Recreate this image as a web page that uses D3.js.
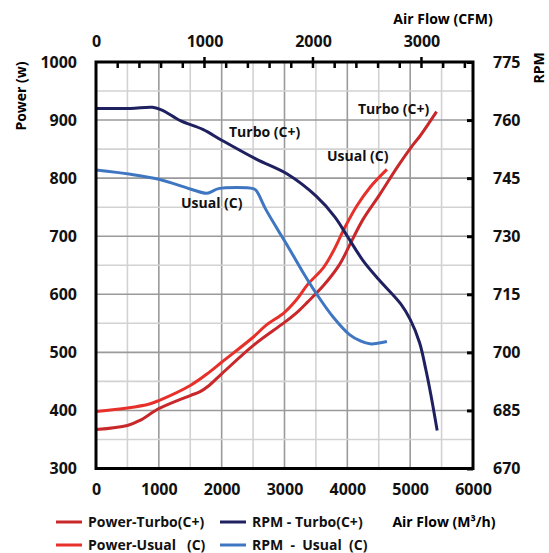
<!DOCTYPE html>
<html><head><meta charset="utf-8">
<script src="https://cdn.jsdelivr.net/npm/d3@7"></script>
<style>
html,body{margin:0;padding:0;background:#fff;}
svg{display:block;font-family:"Open Sans",sans-serif;font-weight:bold;}
</style></head>
<body><svg id="c" width="549" height="553"></svg>
<script>
// ---- data ----
const powerTurbo = [[0,367],[500,374],[700,383],[1000,403],[1500,425.6],[1650,432],[1800,443],[2000,463],[2500,511.6],[3000,551.6],[3200,569],[3370,587],[3620,615],[3880,652],[4070,692],[4250,729],[4520,772.5],[4790,818],[5050,858],[5160,873],[5420,914.5]];
const powerUsual = [[0,398],[500,404],[850,411],[1000,417],[1500,443],[1800,465.6],[2000,483],[2500,526],[2700,546],[3000,569],[3200,592],[3370,617],[3620,646],[3780,675],[3960,715],[4150,752],[4360,784],[4630,815]];
const rpmTurbo = [[0,763],[550,763],[900,763.3],[1050,762.6],[1350,759.8],[1700,757.6],[2000,754.8],[2550,749.9],[3050,746],[3500,740.4],[3800,735],[4000,730],[4250,723.7],[4500,718.8],[4850,712.5],[5000,708.5],[5150,702.5],[5250,695.5],[5330,689],[5430,679.8]];
const rpmUsual = [[0,747.1],[550,746],[1000,744.7],[1500,742.2],[1760,741.1],[1850,741.6],[1950,742.3],[2500,742.3],[2550,741.8],[2700,737],[2900,731.5],[3050,727.5],[3300,720.5],[3510,715.1],[3780,709],[4040,704.5],[4200,703],[4360,702.2],[4630,702.8]];
const flowTicks = [0,1000,2000,3000,4000,5000,6000];
const cfmTicks = [0,1000,2000,3000];
const powerTicks = [300,400,500,600,700,800,900,1000];
const rpmTicks = [670,685,700,715,730,745,760,775];
const legendItems = [
  {label:"Power-Turbo(C+)", color:"#c8282a", col:0, row:0},
  {label:"Power-Usual   (C)", color:"#e8302a", col:0, row:1},
  {label:"RPM - Turbo(C+)", color:"#1f2060", col:1, row:0},
  {label:"RPM  -  Usual  (C)", color:"#3f76c2", col:1, row:1}
];

const L=96, R=473, T=62, B=468.5;
const svg = d3.select("#c");
const x = d3.scaleLinear().domain([0,6000]).range([L,R]);
const xc = d3.scaleLinear().domain([0,3475]).range([L,R]);
const yP = d3.scaleLinear().domain([300,1000]).range([B,T]);
const yR = d3.scaleLinear().domain([670,775]).range([B,T]);

// grid
const g = svg.append("g");
d3.range(500,6000,500).forEach(v=>{
  g.append("line").attr("x1",x(v)).attr("x2",x(v)).attr("y1",T).attr("y2",B)
   .attr("stroke", v%1000===0?"#9a9a9a":"#d2d2d2").attr("stroke-width",1.6);
});
d3.range(350,1000,50).forEach(v=>{
  g.append("line").attr("x1",L).attr("x2",R).attr("y1",yP(v)).attr("y2",yP(v))
   .attr("stroke", v%100===0?"#9a9a9a":"#d2d2d2").attr("stroke-width",1.6);
});

// lines
const cv = d3.curveCatmullRom.alpha(0.5);
const lineP = d3.line().x(d=>x(d[0])).y(d=>yP(d[1])).curve(cv);
const lineR = d3.line().x(d=>x(d[0])).y(d=>yR(d[1])).curve(cv);
svg.append("path").attr("d",lineP(powerTurbo)).attr("fill","none").attr("stroke","#c8282a").attr("stroke-width",3);
svg.append("path").attr("d",lineP(powerUsual)).attr("fill","none").attr("stroke","#e8302a").attr("stroke-width",3);
svg.append("path").attr("d",lineR(rpmTurbo)).attr("fill","none").attr("stroke","#1f2060").attr("stroke-width",3);
svg.append("path").attr("d",lineR(rpmUsual)).attr("fill","none").attr("stroke","#3f76c2").attr("stroke-width",3);

// border
svg.append("rect").attr("x",L).attr("y",T).attr("width",R-L).attr("height",B-T)
  .attr("fill","none").attr("stroke","#000").attr("stroke-width",3);

// axes
const fs = "16px";
const styleText = s=>s.selectAll("text").attr("font-size",fs).attr("font-family","Open Sans").attr("font-weight","bold").attr("fill","#111");
const bottomAx = d3.axisBottom(x).tickValues(flowTicks).tickSize(0).tickPadding(15).tickFormat(d3.format("d"));
svg.append("g").attr("transform",`translate(0,${B})`).call(bottomAx)
  .call(s=>{s.select(".domain").remove(); styleText(s);});

const leftAx = d3.axisLeft(yP).tickValues(powerTicks).tickSize(0).tickPadding(19).tickFormat(d3.format("d"));
svg.append("g").attr("transform",`translate(${L},0)`).call(leftAx)
  .call(s=>{s.select(".domain").remove(); styleText(s);});

const rightAx = d3.axisRight(yR).tickValues(rpmTicks).tickSizeInner(-6).tickSizeOuter(0).tickPadding(20).tickFormat(d3.format("d"));
svg.append("g").attr("transform",`translate(${R},0)`).call(rightAx)
  .call(s=>{s.select(".domain").remove(); s.selectAll("line").attr("stroke","#000").attr("stroke-width",3); styleText(s);});

// top CFM axis
const topAx = d3.axisTop(xc).tickValues(cfmTicks).tickSize(0).tickPadding(15).tickFormat(d3.format("d"));
svg.append("g").attr("transform",`translate(0,${T})`).call(topAx)
  .call(s=>{s.select(".domain").remove(); styleText(s);});
d3.range(200,3475,200).forEach(v=>{
  const major = v%1000===0;
  svg.append("line").attr("x1",xc(v)).attr("x2",xc(v))
    .attr("y1", major?T-5:T).attr("y2", T+6).attr("stroke","#000").attr("stroke-width",2.5);
});

// axis titles
svg.append("text").attr("x",443).attr("y",24).attr("text-anchor","middle").attr("font-size","14px").text("Air Flow (CFM)");
svg.append("text").attr("transform","translate(26,96) rotate(-90)").attr("text-anchor","middle").attr("font-size","14px").text("Power (w)");
svg.append("text").attr("transform","translate(544,68) rotate(-90)").attr("text-anchor","middle").attr("font-size","14px").text("RPM");
svg.append("text").attr("x",444).attr("y",527).attr("text-anchor","middle").attr("font-size","14px").text("Air Flow (M³/h)");

// annotations
const ann = [["Turbo (C+)",229,137],["Usual (C)",181,208],["Turbo (C+)",358,114],["Usual (C)",327,161]];
ann.forEach(a=>svg.append("text").attr("x",a[1]).attr("y",a[2]).attr("font-size","14px").attr("fill","#111").text(a[0]));

// legend
const lg = svg.append("g");
legendItems.forEach(d=>{
  const lx = d.col===0?56:220, ly = d.row===0?522:545;
  lg.append("line").attr("x1",lx).attr("x2",lx+26).attr("y1",ly).attr("y2",ly).attr("stroke",d.color).attr("stroke-width",3);
  lg.append("text").attr("x",lx+32).attr("y",ly+5).attr("font-size","14px").attr("fill","#111").style("white-space","pre").text(d.label);
});
</script></body></html>
